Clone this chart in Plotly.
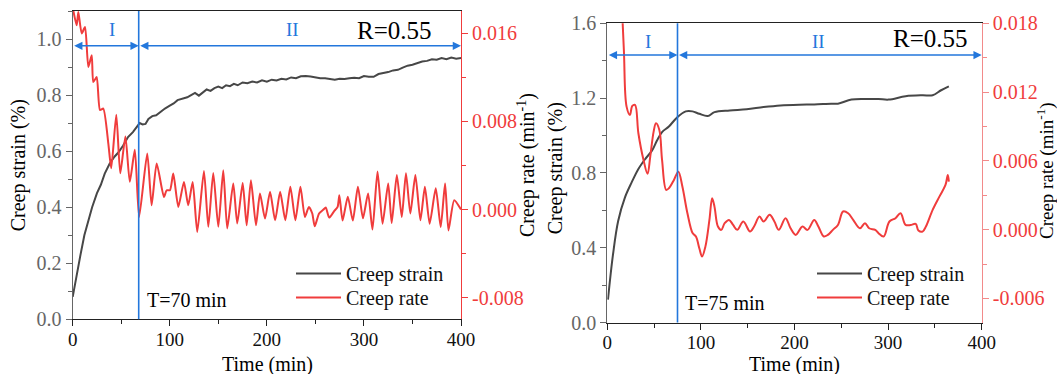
import plotly.graph_objects as go

# ---------------- data: panel (a) ----------------
t_strain_a = [0, 4, 8, 12, 16, 20, 25, 29, 33, 38, 43, 47, 52, 57, 62, 66, 69, 72, 75, 78, 82, 86, 90, 95,
              100, 104, 108, 113, 118, 122, 126, 130, 134, 138, 142, 146, 150, 154, 158, 162, 166, 170, 175,
              180, 185, 190, 195, 200, 205, 210, 215, 220, 225, 230, 235, 240, 245, 250, 255, 260, 265, 270,
              275, 280, 285, 290, 295, 300, 305, 310, 315, 320, 325, 330, 335, 340, 345, 350, 355, 360, 365,
              370, 375, 380, 385, 390, 395, 400]
strain_a = [0.08, 0.16, 0.23, 0.30, 0.35, 0.40, 0.45, 0.48, 0.52, 0.555, 0.58, 0.595, 0.62, 0.65, 0.668,
            0.688, 0.70, 0.695, 0.697, 0.715, 0.725, 0.728, 0.74, 0.752, 0.762, 0.77, 0.782, 0.788, 0.792,
            0.80, 0.808, 0.798, 0.808, 0.82, 0.815, 0.825, 0.83, 0.825, 0.835, 0.832, 0.84, 0.835, 0.845,
            0.842, 0.848, 0.845, 0.853, 0.848, 0.855, 0.852, 0.858, 0.856, 0.863, 0.86, 0.867, 0.868, 0.866,
            0.862, 0.86, 0.86, 0.858, 0.855, 0.858, 0.857, 0.86, 0.862, 0.86, 0.868, 0.865, 0.865, 0.875,
            0.878, 0.882, 0.888, 0.89, 0.898, 0.905, 0.908, 0.915, 0.92, 0.922, 0.928, 0.926, 0.932, 0.928,
            0.934, 0.93, 0.932]

t_rate_a = [0.6, 4.1, 5.8, 9.3, 12.7, 16.1, 19.6, 21.2, 24.7, 28.1, 31.5, 36.7, 39.7, 44.9, 49.0, 54.3,
            58.8, 64.0, 68.4, 76.8, 81.3, 86.5, 94.0, 96.8, 100.2, 103.6, 108.8, 114.6, 119.0, 123.6,
            128.3, 135.2, 139.7, 144.8, 150.0, 155.1, 159.2, 165.4, 169.5, 175.1, 179.2, 183.6, 188.8,
            192.9, 198.1, 203.3, 208.5, 213.7, 219.0, 224.2, 229.4, 234.6, 239.2, 243.3, 246.8, 249.3,
            253.8, 258.3, 260.7, 264.2, 269.5, 272.9, 274.7, 278.0, 283.4, 288.6, 293.8, 299.0, 304.3,
            308.8, 314.0, 319.2, 325.0, 328.6, 333.9, 339.0, 343.3, 347.8, 353.0, 358.2, 362.8, 367.7,
            374.0, 379.1, 383.6, 387.1, 393.0, 400.0]
rate_a = [0.01805, 0.0167, 0.0179, 0.01597, 0.01654, 0.01292, 0.01398, 0.01156, 0.01201, 0.00903,
          0.00915, 0.00598, 0.00374, 0.0086, 0.00328, 0.00663, 0.00252, 0.00541, -0.00067, 0.00507,
          0.00039, 0.00417, 0.00114, 0.00175, 0.00175, 0.00326, 0.00024, 0.0025, 0.00039, 0.0025,
          -0.00203, 0.0035, -0.00157, 0.00332, -0.00157, 0.00356, -0.00172, 0.00236, -0.00127, 0.00241,
          -0.00142, 0.00266, -0.00142, 0.00146, -0.00082, 0.00161, -0.00097, 0.00161, -0.00097, 0.00207,
          -0.00097, 0.00207, -0.00067, 0.00024, -0.00036, -0.00152, -0.00036, 0.0, 0.00018, -0.00073,
          -0.00012, 0.00024, 0.0013, -0.001, 0.00116, -0.001, 0.00207, -0.0008, 0.00146, -0.00182,
          0.00344, -0.00128, 0.00237, -0.00122, 0.00313, -0.00067, 0.00329, -0.00036, 0.00313, -0.00097,
          0.00207, -0.00128, 0.00192, -0.00158, 0.00237, -0.00189, 0.00085, 0.0]

# ---------------- data: panel (b) ----------------
t_strain_b = [0.7, 6.1, 11.6, 18.8, 26.0, 33.2, 40.5, 47.7, 53.1, 58.5, 65.8, 74.8, 83.8, 91.0, 98.3,
              107.3, 114.5, 130.8, 148.9, 166.9, 185.0, 205.1, 221.1, 239.2, 246.4, 260.9, 275.3, 289.8,
              300.6, 318.7, 336.8, 347.6, 356.6, 364.9]
strain_b = [0.122, 0.364, 0.543, 0.668, 0.749, 0.821, 0.874, 0.919, 0.973, 1.018, 1.048, 1.098, 1.129,
            1.129, 1.116, 1.104, 1.125, 1.134, 1.14, 1.152, 1.161, 1.165, 1.166, 1.17, 1.17, 1.192, 1.195,
            1.195, 1.192, 1.21, 1.215, 1.215, 1.242, 1.263]

t_rate_b = [14.5, 17.7, 20.6, 24.2, 26.7, 29.6, 33.2, 38.7, 43.0, 45.9, 49.5, 52.0, 55.6, 58.5, 62.9,
            65.8, 71.2, 75.9, 80.2, 85.6, 91.1, 94.7, 98.3, 101.2, 104.8, 109.1, 112.0, 114.5, 118.2,
            121.8, 125.4, 130.1, 134.4, 138.8, 145.3, 152.5, 156.8, 162.6, 167.0, 173.4, 178.5, 183.2,
            190.4, 195.8, 201.3, 208.5, 213.9, 221.1, 225.5, 231.3, 235.6, 241.0, 246.4, 251.9, 257.3,
            262.7, 269.9, 275.3, 279.7, 286.2, 289.8, 295.2, 301.4, 307.9, 313.3, 318.7, 324.1, 329.5,
            332.4, 336.8, 340.4, 347.6, 354.8, 361.3, 363.8, 364.9]
rate_b = [0.0215, 0.01567, 0.01073, 0.01001, 0.01079, 0.01088, 0.00841, 0.00608, 0.00487, 0.00638,
          0.00855, 0.00928, 0.0087, 0.00608, 0.00347, 0.00361, 0.00434, 0.00506, 0.00376, 0.00143,
          -0.0003, -0.0006, -0.00162, -0.00235, -0.00148, 0.00085, 0.00274, 0.00201, 0.00027, -0.00002,
          0.00056, 0.00085, 0.00041, -0.00002, 0.00071, -0.00017, 0.00027, 0.00114, 0.00071, 0.00129,
          0.00071, -0.00002, 0.001, 0.00012, -0.00046, 0.00027, -0.00002, 0.00085, 0.00027, -0.0006,
          -0.00046, -0.00002, 0.00041, 0.00158, 0.00143, 0.00085, 0.00012, 0.00056, 0.00012, -0.00002,
          -0.00031, -0.0006, 0.00071, 0.001, 0.00143, 0.00041, 0.00041, 0.0005, -0.00008, -0.00017,
          0.00027, 0.00172, 0.00288, 0.0039, 0.00477, 0.00419]

# ---------------- annotations data ----------------
split_a, split_b = 68, 75
split_labels = ["T=70 min", "T=75 min"]
r_label = "R=0.55"

rate_ticks_a = [-0.008, 0.0, 0.008, 0.016]
rate_ticks_b = [-0.006, 0.0, 0.006, 0.012, 0.018]
x_ticks = [0, 100, 200, 300, 400]

FONT = "Liberation Serif, Times New Roman, Times, serif"
BLUE = "#2377dc"
RED = "#f03c3c"
DARK = "#474747"
GRAY = "#666666"
W, H = 1057, 374


def px(x):
    return x / W


def py(y):
    return 1 - y / H


fig = go.Figure()
fig.add_trace(go.Scatter(x=t_strain_a, y=strain_a, mode="lines", name="Creep strain",
                         line=dict(color=DARK, width=2), xaxis="x", yaxis="y", legend="legend"))
fig.add_trace(go.Scatter(x=t_rate_a, y=rate_a, mode="lines", name="Creep rate",
                         line=dict(color=RED, width=2, shape="spline", smoothing=0.6),
                         xaxis="x", yaxis="y2", legend="legend2"))
fig.add_trace(go.Scatter(x=t_strain_b, y=strain_b, mode="lines", name="Creep strain",
                         line=dict(color=DARK, width=2, shape="spline"), xaxis="x2", yaxis="y3",
                         legend="legend3"))
fig.add_trace(go.Scatter(x=t_rate_b, y=rate_b, mode="lines", name="Creep rate",
                         line=dict(color=RED, width=2, shape="spline"), xaxis="x2", yaxis="y4",
                         legend="legend4"))

xa_common = dict(range=[0, 400], tickvals=x_ticks, ticks="outside", ticklen=6, tickwidth=1,
                 tickcolor="#222", linecolor="#222", linewidth=1.2, mirror=True, showgrid=False,
                 zeroline=False, automargin=False, ticklabelstandoff=-3,
                 tickfont=dict(family=FONT, size=19, color="#111"),
                 minor=dict(ticks="outside", dtick=50, ticklen=4, tickcolor="#222"))


def leg(x, y):
    return dict(x=px(x), y=py(y), xanchor="left", yanchor="top", bgcolor="rgba(0,0,0,0)",
                font=dict(family=FONT, size=20, color="#111"), itemwidth=45)


fig.update_layout(
    width=W, height=H, margin=dict(l=0, r=0, t=0, b=0, autoexpand=False),
    paper_bgcolor="white", plot_bgcolor="white",
    font=dict(family=FONT, size=19, color="#111"),
    xaxis=dict(domain=[px(72.7), px(461)], anchor="y", **xa_common),
    xaxis2=dict(domain=[px(607.3), px(981.7)], anchor="y3", **xa_common),
    yaxis=dict(domain=[py(319.3), py(11)], anchor="x", range=[0, 1.1], dtick=0.2, tickformat=".1f",
               ticks="outside", ticklen=6, tickcolor=GRAY, linecolor=GRAY, linewidth=1.2,
               showgrid=False, zeroline=False, automargin=False,
               tickfont=dict(family=FONT, size=20, color=GRAY),
               minor=dict(ticks="outside", dtick=0.1, ticklen=4, tickcolor=GRAY)),
    yaxis2=dict(overlaying="y", side="right", anchor="x", range=[-0.00995, 0.018],
                tickvals=rate_ticks_a, ticktext=[f"{v:.3f}" for v in rate_ticks_a],
                ticks="outside", ticklen=6, tickcolor=RED, linecolor=RED, linewidth=1.2,
                showgrid=False, zeroline=False, automargin=False,
                tickfont=dict(family=FONT, size=20, color=RED),
                minor=dict(ticks="outside", tickvals=[-0.004, 0.004, 0.012], ticklen=4, tickcolor=RED)),
    yaxis3=dict(domain=[py(322.5), py(23.3)], anchor="x2", range=[0, 1.6], dtick=0.4, tickformat=".1f",
                ticks="outside", ticklen=6, tickcolor=GRAY, linecolor=GRAY, linewidth=1.2,
                showgrid=False, zeroline=False, automargin=False,
                tickfont=dict(family=FONT, size=20, color=GRAY),
                minor=dict(ticks="outside", dtick=0.2, ticklen=4, tickcolor=GRAY)),
    yaxis4=dict(overlaying="y3", side="right", anchor="x2", range=[-0.0081, 0.018],
                tickvals=rate_ticks_b, ticktext=[f"{v:.3f}" for v in rate_ticks_b],
                ticks="outside", ticklen=6, tickcolor="#f28a8a", linecolor="#f28a8a", linewidth=1.2,
                showgrid=False, zeroline=False, automargin=False,
                tickfont=dict(family=FONT, size=20, color=RED),
                minor=dict(ticks="outside", tickvals=[-0.003, 0.003, 0.009, 0.015], ticklen=4,
                           tickcolor="#f28a8a")),
    legend=leg(291, 254),
    legend2=leg(291, 278),
    legend3=leg(812, 254),
    legend4=leg(812, 278),
    showlegend=True,
)

# vertical split lines
for xr, yr, s in [("x", "y", split_a), ("x2", "y3", split_b)]:
    fig.add_shape(type="line", xref=xr, yref=f"{yr} domain", x0=s, x1=s, y0=0, y1=1,
                  line=dict(color=BLUE, width=1.6))

ann = []
# stage arrows
for xr, yr, s, ya in [("x", "y", split_a, 0.976), ("x2", "y3", split_b, 1.43)]:
    for a, b in [(0, s), (s, 400)]:
        ann.append(dict(x=b, y=ya, ax=a, ay=ya, xref=xr, yref=yr, axref=xr, ayref=yr, text="",
                        showarrow=True, arrowhead=2, arrowside="end+start", arrowsize=1.1,
                        arrowwidth=1.5, arrowcolor=BLUE))
# stage labels
for xr, yr, s, yl in [("x", "y", split_a, 1.035), ("x2", "y3", split_b, 1.5)]:
    ann.append(dict(x=s / 2 + 6, y=yl, xref=xr, yref=yr, text="I", showarrow=False,
                    font=dict(family=FONT, size=19, color=BLUE)))
    ann.append(dict(x=226, y=yl, xref=xr, yref=yr, text="II", showarrow=False,
                    font=dict(family=FONT, size=19, color=BLUE)))
# R labels
ann.append(dict(x=331, y=1.03, xref="x", yref="y", text=r_label, showarrow=False,
                font=dict(family=FONT, size=25, color="#000")))
ann.append(dict(x=345, y=1.52, xref="x2", yref="y3", text=r_label, showarrow=False,
                font=dict(family=FONT, size=25, color="#000")))
# T labels
ann.append(dict(x=split_a + 6, y=0.069, xref="x", yref="y", text=split_labels[0], showarrow=False,
                xanchor="left", font=dict(family=FONT, size=20, color="#000")))
ann.append(dict(x=split_b + 6, y=0.104, xref="x2", yref="y3", text=split_labels[1], showarrow=False,
                xanchor="left", font=dict(family=FONT, size=20, color="#000")))
# axis titles
for x, y, txt, ang, fs in [(18.3, 165, "Creep strain (%)", -90, 20),
                           (526, 165, "Creep rate (min<sup>-1</sup>)", -90, 20),
                           (555.3, 168, "Creep strain (%)", -90, 20),
                           (1045, 171, "Creep rate (min<sup>-1</sup>)", -90, 19),
                           (267, 364, "Time (min)", 0, 20), (794, 364, "Time (min)", 0, 20)]:
    ann.append(dict(x=px(x), y=py(y), xref="paper", yref="paper", text=txt, showarrow=False,
                    textangle=ang, xanchor="center", yanchor="middle",
                    font=dict(family=FONT, size=fs, color="#000")))
fig.update_layout(annotations=ann)

fig.write_html("out.html")
